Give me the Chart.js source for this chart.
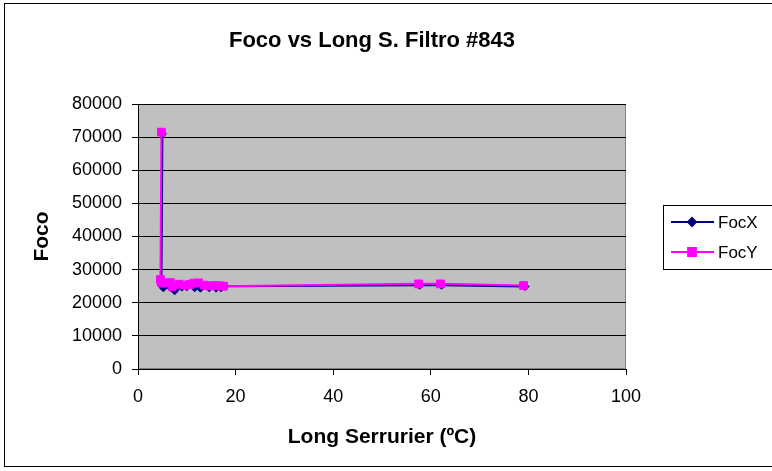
<!DOCTYPE html>
<html>
<head>
<meta charset="utf-8">
<title>Foco vs Long S. Filtro #843</title>
<script src="https://cdn.jsdelivr.net/npm/chart.js@4/dist/chart.umd.min.js"></script>
<style>
  html, body { margin: 0; padding: 0; background: #fff; }
  canvas { display: block; }
</style>
</head>
<body>
<canvas id="c" width="772" height="471"></canvas>
<script>
// Serrurier length (x) and focus readings (y) for filter #843
const focXLong = [5.0, 4.8, 5.2, 6.8, 7.5, 9.0, 10.0, 11.6, 12.8, 14.6, 16.0, 17.0, 17.8, 57.7, 62.2, 79.3];
const focXVal  = [71000, 25300, 24500, 24600, 23600, 24700, 24800, 24500, 24400, 24500, 24400, 24500, 25000, 25300, 25300, 24900];

const focYLong = [4.8, 4.6, 5.0, 6.6, 7.0, 8.4, 9.6, 10.6, 11.4, 12.4, 13.6, 14.6, 15.8, 16.8, 17.5, 57.5, 62.0, 79.0];
const focYVal  = [71500, 27000, 25900, 26100, 24800, 25600, 25300, 25500, 25900, 26000, 25300, 25100, 25200, 25100, 25000, 25700, 25700, 25200];

const seriesNames = ['FocX', 'FocY'];
const xTicks = [0, 20, 40, 60, 80, 100];
const yTicks = [0, 10000, 20000, 30000, 40000, 50000, 60000, 70000, 80000];

const FONT = '"Liberation Sans", Arial, sans-serif';

function pairs(xs, ys) {
  return xs.map((x, i) => ({ x: x, y: ys[i] }));
}

// Grey plot area, frame, title and legend
const frame = {
  id: 'frame',
  beforeDraw(chart) {
    const { ctx, chartArea: a } = chart;
    ctx.save();
    ctx.fillStyle = '#fff';
    ctx.fillRect(0, 0, chart.width, chart.height);
    ctx.fillStyle = '#c0c0c0';
    ctx.fillRect(a.left, a.top, a.right - a.left, a.bottom - a.top);
    ctx.strokeStyle = '#808080';
    ctx.lineWidth = 1;
    ctx.strokeRect(a.left + 0.5, a.top + 0.5, a.right - a.left - 1, a.bottom - a.top - 1);
    ctx.strokeStyle = '#000';
    ctx.strokeRect(4.5, 3.5, 820, 463);
    ctx.restore();
  },
  afterDraw(chart) {
    const { ctx } = chart;
    ctx.save();
    // title
    ctx.fillStyle = '#000';
    ctx.font = 'bold 22px ' + FONT;
    ctx.textAlign = 'center';
    ctx.textBaseline = 'alphabetic';
    ctx.fillText('Foco vs Long S. Filtro #843', 372, 47);

    // legend
    const bx = 663.5, by = 205.5, bw = 130, bh = 64;
    ctx.fillStyle = '#fff';
    ctx.fillRect(bx, by, bw, bh);
    ctx.strokeStyle = '#000';
    ctx.lineWidth = 1;
    ctx.strokeRect(bx, by, bw, bh);
    const rows = [222, 252];
    chart.data.datasets.forEach((ds, i) => {
      const y = rows[i];
      ctx.strokeStyle = ds.borderColor;
      ctx.lineWidth = 2;
      ctx.beginPath();
      ctx.moveTo(671, y);
      ctx.lineTo(714, y);
      ctx.stroke();
      ctx.fillStyle = ds.backgroundColor;
      ctx.strokeStyle = ds.borderColor;
      Chart.helpers.drawPoint(ctx, {
        pointStyle: ds.pointStyle,
        radius: ds.pointRadius,
        borderWidth: 1,
        rotation: 0
      }, 692, y);
      ctx.fillStyle = '#000';
      ctx.font = '17px ' + FONT;
      ctx.textAlign = 'left';
      ctx.textBaseline = 'middle';
      ctx.fillText(ds.label, 718, y + 1);
    });
    ctx.restore();
  }
};

new Chart(document.getElementById('c'), {
  type: 'scatter',
  data: {
    datasets: [
      {
        label: seriesNames[0],
        data: pairs(focXLong, focXVal),
        showLine: true,
        borderColor: '#000080',
        backgroundColor: '#000080',
        borderWidth: 2,
        pointStyle: 'rectRot',
        pointRadius: 4,
        pointBorderWidth: 1,
        tension: 0,
        order: 2
      },
      {
        label: seriesNames[1],
        data: pairs(focYLong, focYVal),
        showLine: true,
        borderColor: '#ff00ff',
        backgroundColor: '#ff00ff',
        borderWidth: 2,
        pointStyle: 'rect',
        pointRadius: 5.5,
        pointBorderWidth: 1,
        tension: 0,
        order: 1
      }
    ]
  },
  options: {
    responsive: false,
    animation: false,
    devicePixelRatio: 1,
    layout: { padding: { left: 0, right: 146, top: 104, bottom: 0 } },
    plugins: {
      legend: { display: false },
      title: { display: false },
      tooltip: { enabled: false }
    },
    scales: {
      x: {
        type: 'linear',
        min: 0,
        max: 100,
        afterBuildTicks(scale) { scale.ticks = xTicks.map(v => ({ value: v })); },
        afterFit(scale) { scale.height = 102; },
        ticks: {
          color: '#000',
          font: { family: FONT, size: 18 },
          padding: 11,
          maxRotation: 0,
          callback: v => String(v)
        },
        grid: {
          drawOnChartArea: false,
          drawTicks: true,
          tickLength: 6,
          color: '#000'
        },
        border: { display: true, color: '#000', width: 1 },
        title: {
          display: true,
          text: 'Long Serrurier (ºC)',
          color: '#000',
          font: { family: FONT, size: 21, weight: 'bold' },
          padding: { top: 0, bottom: 21 }
        }
      },
      y: {
        type: 'linear',
        min: 0,
        max: 80000,
        afterBuildTicks(scale) { scale.ticks = yTicks.map(v => ({ value: v })); },
        afterFit(scale) { scale.width = 138; },
        ticks: {
          color: '#000',
          font: { family: FONT, size: 18 },
          padding: 10,
          callback: v => String(v)
        },
        grid: {
          drawOnChartArea: true,
          drawTicks: true,
          tickLength: 6,
          color: '#000',
          lineWidth: 1
        },
        border: { display: true, color: '#000', width: 1 },
        title: {
          display: true,
          text: 'Foco',
          color: '#000',
          font: { family: FONT, size: 21, weight: 'bold' },
          padding: { top: 30, bottom: 0 }
        }
      }
    }
  },
  plugins: [frame]
});
</script>
</body>
</html>
